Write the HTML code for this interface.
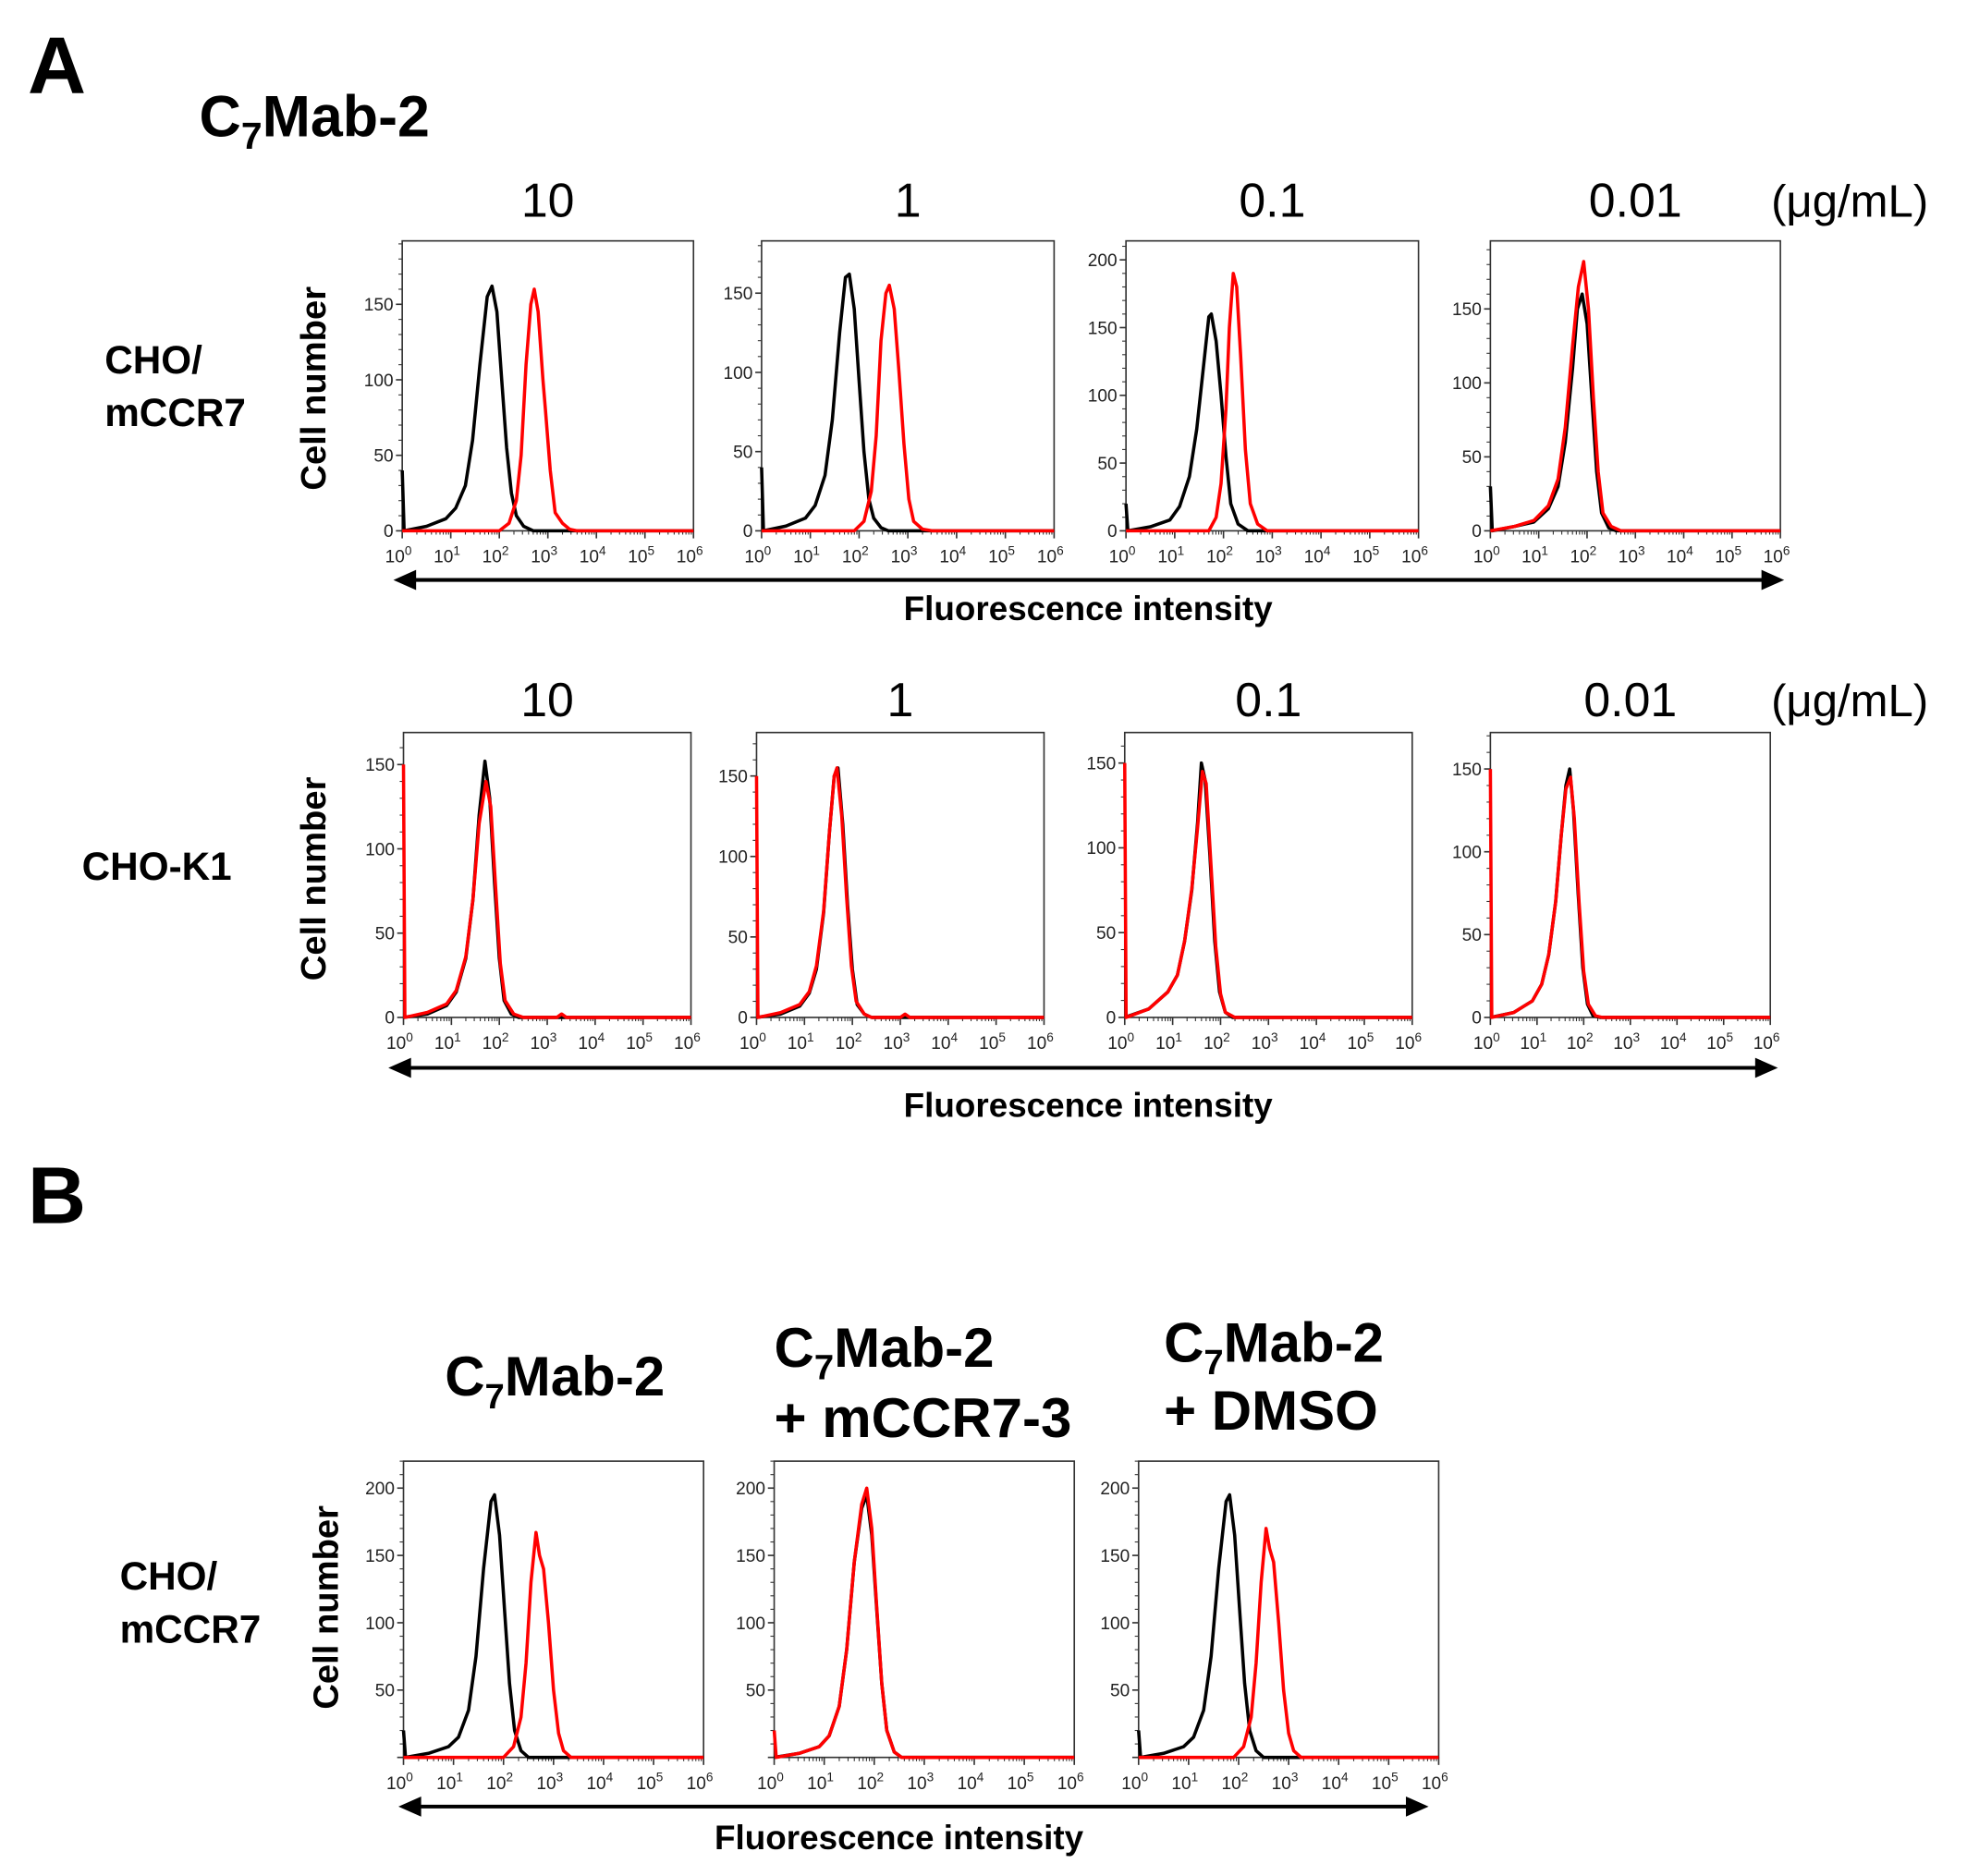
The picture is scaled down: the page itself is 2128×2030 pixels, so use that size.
<!DOCTYPE html>
<html><head><meta charset="utf-8">
<style>
html,body{margin:0;padding:0;background:#fff;}
svg{display:block;font-family:"Liberation Sans",Arial,sans-serif;}
</style></head>
<body>
<svg id="fig" width="2128" height="2030" viewBox="0 0 1560 1488" xmlns="http://www.w3.org/2000/svg">
<g id="static">
<text x="22" y="74" font-size="64" font-weight="bold">A</text>
<text x="158" y="108" font-size="46" font-weight="bold">C<tspan font-size="30" dy="10">7</tspan><tspan dy="-10">Mab-2</tspan></text>
<text x="22" y="970" font-size="64" font-weight="bold">B</text>
<text x="1467" y="172" font-size="36" text-anchor="middle">(μg/mL)</text>
<text x="1467" y="568" font-size="36" text-anchor="middle">(μg/mL)</text>
<text x="83" y="296" font-size="31" font-weight="bold">CHO/</text>
<text x="83" y="338" font-size="31" font-weight="bold">mCCR7</text>
<text x="65" y="698" font-size="31" font-weight="bold">CHO-K1</text>
<text x="95" y="1261" font-size="31" font-weight="bold">CHO/</text>
<text x="95" y="1303" font-size="31" font-weight="bold">mCCR7</text>
<text x="440" y="1107" font-size="44" font-weight="bold" text-anchor="middle">C<tspan font-size="28" dy="10">7</tspan><tspan dy="-10">Mab-2</tspan></text>
<text x="614" y="1084" font-size="44" font-weight="bold">C<tspan font-size="28" dy="10">7</tspan><tspan dy="-10">Mab-2</tspan></text>
<text x="614" y="1140" font-size="44" font-weight="bold">+ mCCR7-3</text>
<text x="923" y="1080" font-size="44" font-weight="bold">C<tspan font-size="28" dy="10">7</tspan><tspan dy="-10">Mab-2</tspan></text>
<text x="923" y="1134" font-size="44" font-weight="bold">+ DMSO</text>
</g>
</svg>
<script>
// ---- data: [log10 fluorescence, cell count] ----
const r1p1Black=[[0,40],[0.04,0],[0.5,3],[0.9,8],[1.1,15],[1.3,30],[1.45,60],[1.6,110],[1.75,155],[1.85,162],[1.95,145],[2.05,100],[2.15,55],[2.25,25],[2.35,10],[2.5,3],[2.7,0],[6,0]];
const r1p1Red=[[0,0],[2,0],[2.2,5],[2.35,20],[2.45,50],[2.55,110],[2.65,150],[2.72,160],[2.8,145],[2.9,100],[2.95,80],[3.05,40],[3.15,12],[3.3,5],[3.45,1],[3.6,0],[6,0]];
const r1p2Black=[[0,40],[0.04,0],[0.5,3],[0.9,8],[1.1,16],[1.3,35],[1.45,70],[1.6,125],[1.72,160],[1.8,162],[1.9,140],[2.0,95],[2.1,50],[2.2,20],[2.3,8],[2.45,2],[2.6,0],[6,0]];
const r1p2Red=[[0,0],[1.9,0],[2.1,6],[2.25,25],[2.35,60],[2.45,120],[2.55,150],[2.62,155],[2.72,140],[2.82,100],[2.92,55],[3.02,20],[3.12,6],[3.3,1],[3.5,0],[6,0]];
const r1p3Black=[[0,20],[0.04,0],[0.5,3],[0.9,8],[1.1,18],[1.3,40],[1.45,75],[1.6,125],[1.7,158],[1.75,160],[1.85,140],[1.95,100],[2.05,55],[2.15,20],[2.3,5],[2.5,0],[6,0]];
const r1p3Red=[[0,0],[1.7,0],[1.85,10],[1.95,35],[2.05,90],[2.12,150],[2.2,190],[2.27,180],[2.35,130],[2.45,60],[2.55,20],[2.7,5],[2.9,0],[6,0]];
const r1p4Black=[[0,30],[0.04,0],[0.5,3],[0.9,6],[1.2,15],[1.4,30],[1.55,60],[1.7,110],[1.8,150],[1.9,160],[2.0,140],[2.1,90],[2.2,40],[2.3,12],[2.45,2],[2.6,0],[6,0]];
const r1p4Red=[[0,0],[0.5,3],[0.9,7],[1.2,17],[1.4,35],[1.55,70],[1.7,125],[1.82,165],[1.93,182],[2.03,150],[2.13,90],[2.23,40],[2.33,12],[2.5,3],[2.7,0],[6,0]];
const r2p1Black=[[0,0],[0.5,2],[0.9,7],[1.1,15],[1.3,35],[1.45,70],[1.58,120],[1.7,152],[1.8,130],[1.9,80],[2.0,35],[2.1,10],[2.25,2],[2.4,0],[6,0]];
const r2p1Red=[[0,150],[0.03,0],[0.5,3],[0.9,8],[1.1,16],[1.3,36],[1.45,70],[1.58,115],[1.72,140],[1.82,125],[1.92,78],[2.02,32],[2.12,10],[2.3,2],[2.5,0],[3.2,0],[3.3,2],[3.4,0],[6,0]];
const r2p2Black=[[0,0],[0.5,2],[0.9,7],[1.1,15],[1.25,30],[1.4,65],[1.52,115],[1.62,150],[1.7,155],[1.8,120],[1.9,70],[2.0,30],[2.1,8],[2.25,2],[2.4,0],[6,0]];
const r2p2Red=[[0,150],[0.03,0],[0.5,3],[0.9,8],[1.1,16],[1.25,32],[1.4,66],[1.52,115],[1.62,150],[1.68,155],[1.78,125],[1.88,75],[1.98,32],[2.08,10],[2.25,2],[2.4,0],[3.0,0],[3.1,2],[3.2,0],[6,0]];
const r2p3Black=[[0,0],[0.5,5],[0.9,15],[1.1,25],[1.25,45],[1.4,75],[1.52,115],[1.6,150],[1.68,140],[1.78,95],[1.88,45],[1.98,15],[2.1,3],[2.25,0],[6,0]];
const r2p3Red=[[0,150],[0.03,0],[0.5,5],[0.9,15],[1.1,25],[1.25,45],[1.4,76],[1.52,112],[1.62,145],[1.7,138],[1.8,90],[1.9,42],[2.0,14],[2.1,3],[2.3,0],[6,0]];
const r2p4Black=[[0,0],[0.5,3],[0.9,10],[1.1,20],[1.25,38],[1.4,70],[1.52,110],[1.62,140],[1.7,150],[1.78,125],[1.88,75],[1.98,30],[2.08,8],[2.2,1],[2.35,0],[6,0]];
const r2p4Red=[[0,150],[0.03,0],[0.5,3],[0.9,10],[1.1,20],[1.25,38],[1.4,70],[1.52,110],[1.62,138],[1.72,145],[1.8,120],[1.9,70],[2.0,28],[2.1,8],[2.25,1],[2.4,0],[6,0]];
const b1Black=[[0,20],[0.04,0],[0.5,3],[0.9,8],[1.1,15],[1.3,35],[1.45,75],[1.6,140],[1.75,190],[1.82,195],[1.92,165],[2.02,110],[2.12,55],[2.22,20],[2.35,5],[2.5,0],[6,0]];
const b1Red=[[0,0],[2,0],[2.2,8],[2.35,30],[2.45,70],[2.55,130],[2.65,167],[2.72,150],[2.8,140],[2.9,100],[3.0,50],[3.1,18],[3.2,5],[3.35,0],[6,0]];
const b2Black=[[0,0],[0.5,3],[0.9,8],[1.1,16],[1.3,38],[1.45,80],[1.6,145],[1.75,185],[1.85,195],[1.95,165],[2.05,110],[2.15,55],[2.25,20],[2.4,4],[2.55,0],[6,0]];
const b2Red=[[0,20],[0.04,0],[0.5,3],[0.9,8],[1.1,16],[1.3,38],[1.45,80],[1.6,145],[1.75,188],[1.85,200],[1.95,170],[2.05,112],[2.15,55],[2.25,20],[2.4,4],[2.55,0],[6,0]];
const b3Black=[[0,20],[0.04,0],[0.5,3],[0.9,8],[1.1,15],[1.3,35],[1.45,75],[1.6,140],[1.75,190],[1.82,195],[1.92,165],[2.02,110],[2.12,55],[2.22,20],[2.35,5],[2.5,0],[6,0]];
const b3Red=[[0,0],[1.9,0],[2.1,8],[2.25,30],[2.35,70],[2.45,130],[2.55,170],[2.62,155],[2.7,145],[2.8,100],[2.9,50],[3.0,18],[3.1,5],[3.25,0],[6,0]];
const xTickLabels=["0","1","2","3","4","5","6"];
const titlesRow=["10","1","0.1","0.01"];
const yTicksA=[0,50,100,150];
const yTicksA3=[0,50,100,150,200];
const yTicksB=[50,100,150,200];

const NS="http://www.w3.org/2000/svg";
const svg=document.getElementById('fig');
function mk(tag,attrs,parent){const e=document.createElementNS(NS,tag);for(const k in attrs)e.setAttribute(k,attrs[k]);(parent||svg).appendChild(e);return e;}

const panels=[
 {id:'r1p1',x0:319,x1:550,top:191,bot:421,ymax:192,ticks:yTicksA,curves:[r1p1Black,r1p1Red],title:titlesRow[0],ty:172},
 {id:'r1p2',x0:604,x1:836,top:191,bot:421,ymax:183,ticks:yTicksA,curves:[r1p2Black,r1p2Red],title:titlesRow[1],ty:172},
 {id:'r1p3',x0:893,x1:1125,top:191,bot:421,ymax:214,ticks:yTicksA3,curves:[r1p3Black,r1p3Red],title:titlesRow[2],ty:172},
 {id:'r1p4',x0:1182,x1:1412,top:191,bot:421,ymax:196,ticks:yTicksA,curves:[r1p4Black,r1p4Red],title:titlesRow[3],ty:172},
 {id:'r2p1',x0:320,x1:548,top:581,bot:807,ymax:169,ticks:yTicksA,curves:[r2p1Black,r2p1Red],title:titlesRow[0],ty:568},
 {id:'r2p2',x0:600,x1:828,top:581,bot:807,ymax:177,ticks:yTicksA,curves:[r2p2Black,r2p2Red],title:titlesRow[1],ty:568},
 {id:'r2p3',x0:892,x1:1120,top:581,bot:807,ymax:168,ticks:yTicksA,curves:[r2p3Black,r2p3Red],title:titlesRow[2],ty:568},
 {id:'r2p4',x0:1182,x1:1404,top:581,bot:807,ymax:172,ticks:yTicksA,curves:[r2p4Black,r2p4Red],title:titlesRow[3],ty:568},
 {id:'b1',x0:320,x1:558,top:1159,bot:1394,ymax:220,ticks:yTicksB,curves:[b1Black,b1Red]},
 {id:'b2',x0:614,x1:852,top:1159,bot:1394,ymax:220,ticks:yTicksB,curves:[b2Black,b2Red]},
 {id:'b3',x0:903,x1:1141,top:1159,bot:1394,ymax:220,ticks:yTicksB,curves:[b3Black,b3Red]}
];
const colors=['#000','#ff0000'];
panels.forEach(p=>{
 const g=mk('g',{});
 
 
 const sx=v=>p.x0+(p.x1-p.x0)*v/6;
 const sy=v=>p.bot-(p.bot-p.top)*v/p.ymax;
 const fr=mk('rect',{x:p.x0,y:p.top,width:p.x1-p.x0,height:p.bot-p.top,fill:'none',stroke:'#333','stroke-width':1.2},g);
 
 
 // y ticks
 for(let v=0;v<=p.ymax;v+=10){const big=v%50===0;mk('line',{x1:p.x0-(big?5:3),x2:p.x0,y1:sy(v),y2:sy(v),stroke:'#333','stroke-width':big?1.2:0.8},g);}
 p.ticks.forEach(v=>{const t=mk('text',{x:p.x0-7,y:sy(v)+5,'font-size':14,'text-anchor':'end',fill:'#222'},g);t.textContent=v;
  
  });
 // x ticks
 for(let d=0;d<=6;d++){mk('line',{x1:sx(d),x2:sx(d),y1:p.bot,y2:p.bot+6,stroke:'#333','stroke-width':1.2},g);
  if(d<6)for(let m=2;m<10;m++){const lx=sx(d+Math.log10(m));mk('line',{x1:lx,x2:lx,y1:p.bot,y2:p.bot+3,stroke:'#333','stroke-width':0.8},g);}}
 xTickLabels.forEach((s,i)=>{const t=mk('text',{x:sx(i)-3,y:p.bot+25,'font-size':14,'text-anchor':'middle',fill:'#222'},g);
  t.innerHTML='10<tspan font-size="10" dy="-6">'+s+'</tspan>';
  
  });
 p.curves.forEach((c,ci)=>{const d=c.map((pt,i)=>(i?'L':'M')+sx(pt[0]).toFixed(1)+','+sy(pt[1]).toFixed(1)).join('');
  const path=mk('path',{d:d,fill:'none',stroke:colors[ci],'stroke-width':2.6,'stroke-linejoin':'round'},g);
  
  });
 if(p.title){const t=mk('text',{x:(p.x0+p.x1)/2+(p.id.startsWith('r2')?0:0),y:p.ty,'font-size':38,'text-anchor':'middle'},g);t.textContent=p.title;
  
  }
});
// arrows, axis titles
[[312,1415,460,483,863],[308,1410,847,877,863],[316,1133,1433,1458,713]].forEach(a=>{
 const g=mk('g',{});
 
 
 mk('line',{x1:a[0]+12,x2:a[1]-12,y1:a[2],y2:a[2],stroke:'#000','stroke-width':3},g);
 mk('polygon',{points:`${a[0]},${a[2]} ${a[0]+18},${a[2]-8} ${a[0]+18},${a[2]+8}`,fill:'#000'},g);
 mk('polygon',{points:`${a[1]},${a[2]} ${a[1]-18},${a[2]-8} ${a[1]-18},${a[2]+8}`,fill:'#000'},g);
 const t=mk('text',{x:a[4],y:a[3]+9,'font-size':27,'font-weight':'bold','text-anchor':'middle'},g);t.textContent='Fluorescence intensity';
 
 
});
[[258,308],[258,697],[268,1275]].forEach(c=>{
 const t=mk('text',{x:c[0],y:c[1],'font-size':28,'font-weight':'bold','text-anchor':'middle',transform:`rotate(-90 ${c[0]} ${c[1]})`});
 t.textContent='Cell number';
 
 
});
</script>
</body></html>
